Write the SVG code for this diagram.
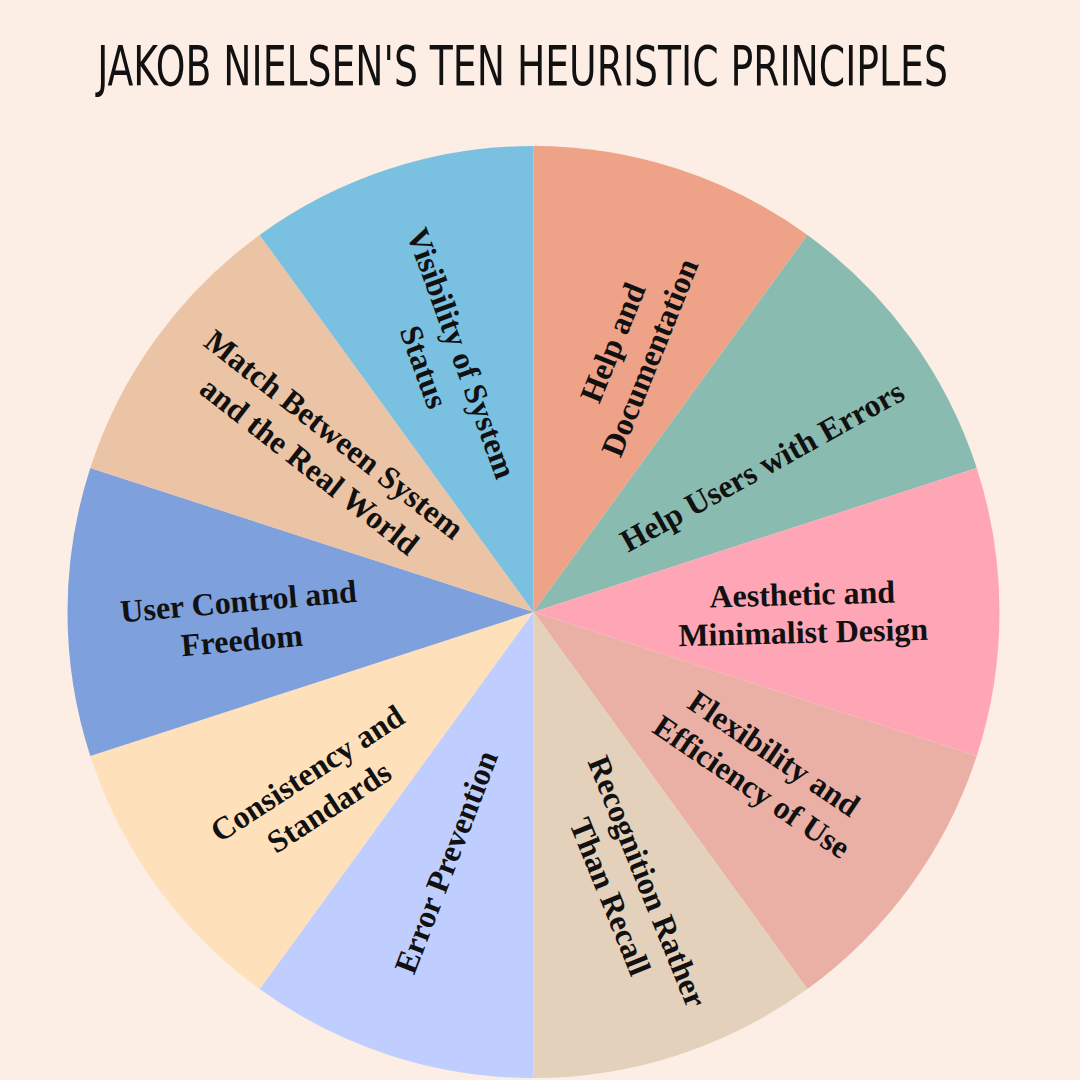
<svg xmlns="http://www.w3.org/2000/svg" width="1080" height="1080" viewBox="0 0 1080 1080">
<style>
.title{font-family:"Liberation Sans Narrow","DejaVu Sans Condensed","Liberation Sans",sans-serif;font-stretch:condensed;font-size:56px;fill:#111;}
.lbl{font-family:"Liberation Serif","Times New Roman",serif;font-weight:bold;font-size:32px;fill:#111;text-anchor:middle;}
</style>
<rect width="1080" height="1080" fill="#FCEEE4"/>
<text class="title" transform="translate(522.5 85) scale(0.749 1)" x="0" y="0" text-anchor="middle">JAKOB NIELSEN'S TEN HEURISTIC PRINCIPLES</text>
<g id="slices">
<path id="s-help-doc" d="M533.5 612 L533.5 146 A466 466 0 0 1 807.4 235 Z" fill="#EEA288"/>
<path id="s-help-errors" d="M533.5 612 L807.4 235 A466 466 0 0 1 976.7 468 Z" fill="#8ABBB0"/>
<path id="s-aesthetic" d="M533.5 612 L976.7 468 A466 466 0 0 1 976.7 756 Z" fill="#FEA6B6"/>
<path id="s-flex" d="M533.5 612 L976.7 756 A466 466 0 0 1 807.4 989 Z" fill="#EBB0A5"/>
<path id="s-recognition" d="M533.5 612 L807.4 989 A466 466 0 0 1 533.5 1078 Z" fill="#E4D1BC"/>
<path id="s-error-prev" d="M533.5 612 L533.5 1078 A466 466 0 0 1 259.6 989 Z" fill="#BFCEFE"/>
<path id="s-consistency" d="M533.5 612 L259.6 989 A466 466 0 0 1 90.3 756 Z" fill="#FEE1BB"/>
<path id="s-user-control" d="M533.5 612 L90.3 756 A466 466 0 0 1 90.3 468 Z" fill="#7EA0DC"/>
<path id="s-match" d="M533.5 612 L90.3 468 A466 466 0 0 1 259.6 235 Z" fill="#EBC3A5"/>
<path id="s-visibility" d="M533.5 612 L259.6 235 A466 466 0 0 1 533.5 146 Z" fill="#7AC0E1"/>
</g>
<g id="labels">
<g id="n-visibility" transform="translate(443 360) rotate(70)"><text class="lbl" x="0" y="-9">Visibility of System</text><text class="lbl" x="0" y="31">Status</text></g>
<g id="n-help-doc" transform="translate(631 350) rotate(-68)"><text class="lbl" x="0" y="-9">Help and</text><text class="lbl" x="0" y="31">Documentation</text></g>
<g id="n-help-errors" transform="translate(762 466) rotate(-29)"><text class="lbl" x="0" y="11">Help Users with Errors</text></g>
<g id="n-aesthetic" transform="translate(803 623) rotate(-1.5)"><text class="lbl" x="0" y="-18" font-size="33">Aesthetic and</text><text class="lbl" x="0" y="20" font-size="33">Minimalist Design</text></g>
<g id="n-flex" transform="translate(763 770) rotate(34)"><text class="lbl" x="0" y="-9">Flexibility and</text><text class="lbl" x="0" y="31">Efficiency of Use</text></g>
<g id="n-recognition" transform="translate(629 889) rotate(68)"><text class="lbl" x="0" y="-9">Recognition Rather</text><text class="lbl" x="0" y="31">Than Recall</text></g>
<g id="n-error-prev" transform="translate(446 862) rotate(-69)"><text class="lbl" x="0" y="11">Error Prevention</text></g>
<g id="n-consistency" transform="translate(318 790) rotate(-33)"><text class="lbl" x="0" y="-9">Consistency and</text><text class="lbl" x="0" y="31">Standards</text></g>
<g id="n-user-control" transform="translate(241 631) rotate(-5)"><text class="lbl" x="0" y="-19">User Control and</text><text class="lbl" x="0" y="20">Freedom</text></g>
<g id="n-match" transform="translate(322 450) rotate(38)"><text class="lbl" x="0" y="-9">Match Between System</text><text class="lbl" x="0" y="31">and the Real World</text></g>
</g>
<g id="connectors"></g>
</svg>
